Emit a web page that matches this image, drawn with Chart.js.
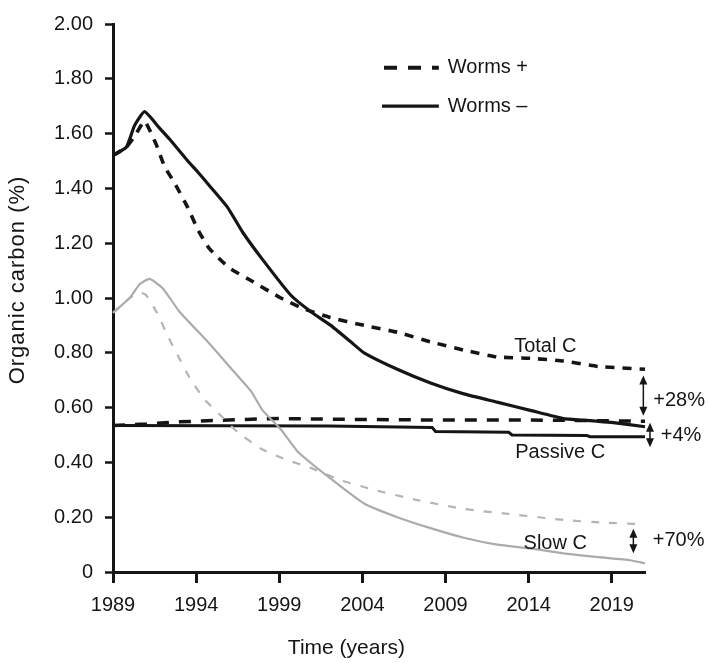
<!DOCTYPE html>
<html>
<head>
<meta charset="utf-8">
<title>Organic carbon</title>
<script src="https://cdn.jsdelivr.net/npm/chart.js@4.4.1/dist/chart.umd.min.js"></script>
<style>
  html, body { margin: 0; padding: 0; background: #fff; }
  #wrap { width: 708px; height: 663px; }
</style>
</head>
<body>
<div id="wrap"><canvas id="chart" width="708" height="663"></canvas></div>
<script>
// values
const xTicks = [1989, 1994, 1999, 2004, 2009, 2014, 2019];
const yTicks = [0, 0.2, 0.4, 0.6, 0.8, 1.0, 1.2, 1.4, 1.6, 1.8, 2.0];
const yTickLabels = ['0', '0.20', '0.40', '0.60', '0.80', '1.00', '1.20', '1.40', '1.60', '1.80', '2.00'];

const totalMinusYears = [1989, 1989.8, 1990.3, 1990.9, 1991.8, 1992.4, 1993.5, 1994.1, 1994.8, 1995.9, 1996.8, 1998.0, 1999.7, 2000.9, 2002.1, 2003.3, 2004.1, 2006.1, 2008.1, 2010.1, 2012.1, 2014.1, 2016.1, 2018.2, 2019.1, 2021];
const totalMinus = [1.52, 1.55, 1.63, 1.68, 1.62, 1.58, 1.50, 1.46, 1.41, 1.33, 1.24, 1.14, 1.01, 0.95, 0.90, 0.84, 0.80, 0.74, 0.69, 0.65, 0.62, 0.59, 0.56, 0.55, 0.545, 0.53];

const totalPlusYears = [1989, 1989.8, 1990.3, 1990.9, 1991.6, 1992.1, 1992.7, 1993.5, 1994.1, 1994.8, 1996.0, 1997.4, 1999.1, 2000.5, 2002.0, 2004.1, 2006.1, 2008.1, 2010.1, 2012.1, 2014.1, 2016.1, 2018.2, 2021];
const totalPlus = [1.52, 1.55, 1.59, 1.645, 1.56, 1.48, 1.42, 1.33, 1.25, 1.18, 1.11, 1.06, 1.00, 0.96, 0.93, 0.90, 0.875, 0.84, 0.81, 0.785, 0.78, 0.77, 0.75, 0.74];

const passiveMinusYears = [1989, 2002, 2008.2, 2008.4, 2012.8, 2013, 2017.5, 2017.7, 2021];
const passiveMinus = [0.535, 0.533, 0.527, 0.513, 0.51, 0.50, 0.498, 0.494, 0.494];

const passivePlusYears = [1989, 1991, 1993, 1995, 1997, 1999, 2003, 2008, 2013, 2017, 2021];
const passivePlus = [0.535, 0.54, 0.548, 0.553, 0.557, 0.56, 0.557, 0.555, 0.555, 0.553, 0.55];

const slowMinusYears = [1989, 1990.0, 1990.6, 1991.2, 1992.0, 1993.0, 1994.7, 1996.0, 1997.3, 1998.0, 1999.1, 2000.1, 2002.0, 2004.1, 2006.1, 2008.1, 2010.1, 2012.1, 2014.1, 2016.1, 2018.2, 2020.1, 2021];
const slowMinus = [0.946, 1.00, 1.05, 1.07, 1.035, 0.95, 0.84, 0.75, 0.66, 0.59, 0.52, 0.44, 0.345, 0.25, 0.20, 0.16, 0.125, 0.10, 0.086, 0.068, 0.054, 0.043, 0.032];

const slowPlusYears = [1989, 1990.0, 1990.6, 1991.0, 1991.7, 1992.3, 1992.9, 1993.6, 1994.5, 1995.5, 1996.5, 1997.9, 1999.4, 2000.9, 2002.7, 2004.7, 2007.1, 2010.1, 2013.1, 2016.1, 2018.5, 2020.9];
const slowPlus = [0.946, 1.00, 1.02, 1.01, 0.94, 0.86, 0.79, 0.71, 0.63, 0.57, 0.51, 0.45, 0.41, 0.38, 0.335, 0.30, 0.265, 0.23, 0.21, 0.19, 0.18, 0.175];

const legendLabels = ['Worms +', 'Worms \u2013'];
const xTitle = 'Time (years)';
const yTitle = 'Organic carbon (%)';

// [text, year, value, align]
const curveLabels = [
    ['Total C', 2015.0, 0.824, 'center'],
    ['Passive C', 2015.9, 0.437, 'center'],
    ['Slow C', 2015.6, 0.104, 'center'],
    ['+28%', 2021.5, 0.627, 'left'],
    ['+4%', 2021.95, 0.50, 'left'],
    ['+70%', 2021.47, 0.115, 'left']
];
// [year, from, to]
const arrows = [
    [2020.9, 0.717, 0.57],
    [2021.3, 0.545, 0.455],
    [2020.3, 0.158, 0.068]
];

const FONT = '"Liberation Sans", Arial, Helvetica, sans-serif';
const BLACK = '#151515';
const GREY = '#ababab';

function pts(xs, ys) {
    return xs.map((x, i) => ({ x: x, y: ys[i] }));
}

function line(data, color, width, dash) {
    return {
        data: data,
        borderColor: color,
        borderWidth: width,
        borderDash: dash || [],
        pointRadius: 0,
        tension: 0.15,
        fill: false,
        clip: false
    };
}

const datasets = [
    line(pts(slowMinusYears, slowMinus), GREY, 2.2),
    line(pts(slowPlusYears, slowPlus), '#b4b4b4', 2.2, [8, 10]),
    line(pts(passiveMinusYears, passiveMinus), BLACK, 3),
    line(pts(passivePlusYears, passivePlus), BLACK, 3.5, [12, 10]),
    line(pts(totalMinusYears, totalMinus), BLACK, 3.2),
    line(pts(totalPlusYears, totalPlus), BLACK, 3.6, [9, 8])
];
datasets[2].tension = 0;
datasets[3].tension = 0;

function drawArrowHead(ctx, x, y, dir) {
    ctx.beginPath();
    ctx.moveTo(x, y);
    ctx.lineTo(x - 4, y - dir * 9);
    ctx.lineTo(x + 4, y - dir * 9);
    ctx.closePath();
    ctx.fill();
}

const extras = {
    id: 'extras',
    afterDraw(chart) {
        const ctx = chart.ctx;
        const xs = chart.scales.x;
        const ys = chart.scales.y;
        const area = chart.chartArea;
        ctx.save();
        ctx.fillStyle = BLACK;
        ctx.strokeStyle = BLACK;

        // axis titles
        ctx.font = '21px ' + FONT;
        ctx.textAlign = 'center';
        ctx.textBaseline = 'middle';
        ctx.fillText(xTitle, xs.getPixelForValue(2004) - 16, 648);
        ctx.save();
        ctx.translate(18, (area.top + area.bottom) / 2 - 18);
        ctx.rotate(-Math.PI / 2);
        ctx.letterSpacing = '1px';
        ctx.font = '22px ' + FONT;
        ctx.fillText(yTitle, 0, 0);
        ctx.restore();

        // legend
        const lx = xs.getPixelForValue(2005.3);
        const lx2 = xs.getPixelForValue(2008.6);
        const ly1 = ys.getPixelForValue(1.84);
        const ly2 = ys.getPixelForValue(1.70);
        ctx.lineWidth = 4;
        ctx.setLineDash([13, 11]);
        ctx.beginPath(); ctx.moveTo(lx, ly1); ctx.lineTo(lx2, ly1); ctx.stroke();
        ctx.setLineDash([]);
        ctx.lineWidth = 3.2;
        ctx.beginPath(); ctx.moveTo(lx - 2, ly2); ctx.lineTo(lx2, ly2); ctx.stroke();
        ctx.font = '20px ' + FONT;
        ctx.textAlign = 'left';
        ctx.fillText(legendLabels[0], lx2 + 9, ly1);
        ctx.fillText(legendLabels[1], lx2 + 9, ly2);

        // curve labels
        curveLabels.forEach(l => {
            ctx.textAlign = l[3];
            ctx.fillText(l[0], xs.getPixelForValue(l[1]), ys.getPixelForValue(l[2]));
        });

        // double arrows
        ctx.lineWidth = 1.5;
        arrows.forEach(a => {
            const x = xs.getPixelForValue(a[0]);
            const y1 = ys.getPixelForValue(a[1]);
            const y2 = ys.getPixelForValue(a[2]);
            ctx.beginPath(); ctx.moveTo(x, y1 + 6); ctx.lineTo(x, y2 - 6); ctx.stroke();
            drawArrowHead(ctx, x, y1, -1);
            drawArrowHead(ctx, x, y2, 1);
        });
        ctx.restore();
    }
};

new Chart(document.getElementById('chart'), {
    type: 'line',
    data: { datasets: datasets },
    options: {
        responsive: false,
        animation: false,
        layout: { padding: { top: 14, right: 63, left: 0, bottom: 0 } },
        plugins: { legend: { display: false }, tooltip: { enabled: false } },
        scales: {
            x: {
                type: 'linear',
                min: 1989,
                max: 2021,
                afterBuildTicks: s => { s.ticks = xTicks.map(v => ({ value: v })); },
                afterFit: s => { s.height = 91; },
                ticks: {
                    callback: v => String(v),
                    color: BLACK,
                    font: { family: FONT, size: 20 },
                    padding: 10,
                    maxRotation: 0
                },
                grid: { drawOnChartArea: false, tickLength: 11, tickWidth: 3, tickColor: BLACK },
                border: { color: BLACK, width: 3 }
            },
            y: {
                min: 0,
                max: 2,
                afterBuildTicks: s => { s.ticks = yTicks.map(v => ({ value: v })); },
                afterFit: s => { s.width = 113; },
                ticks: {
                    callback: (v, i) => yTickLabels[i],
                    color: BLACK,
                    font: { family: FONT, size: 20 },
                    padding: 12
                },
                grid: { drawOnChartArea: false, tickLength: 8, tickWidth: 2.5, tickColor: BLACK },
                border: { color: BLACK, width: 3 }
            }
        }
    },
    plugins: [extras]
});
</script>
</body>
</html>
